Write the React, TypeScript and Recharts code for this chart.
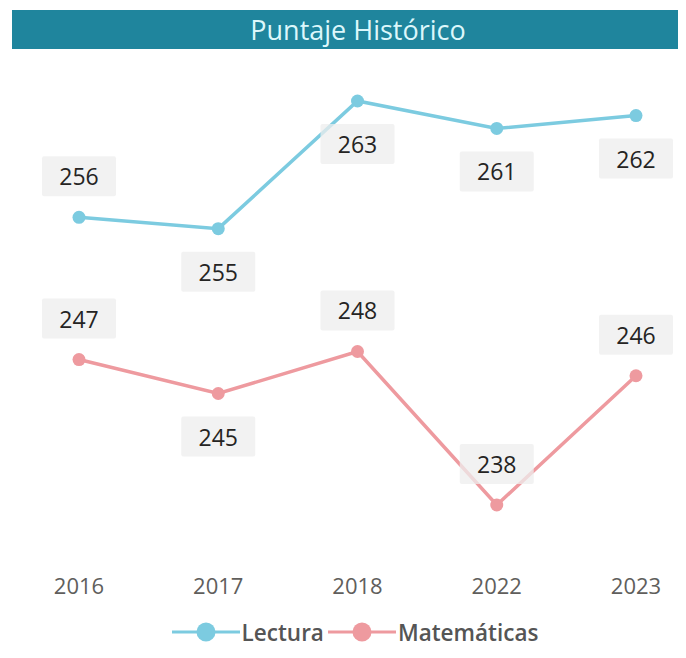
import React from "react";
import { LineChart, Line, XAxis, YAxis, LabelList, Legend } from "recharts";

const years = ["2016", "2017", "2018", "2022", "2023"];
const lectura = [255.8, 255.1, 263.0, 261.3, 262.1];
const matematicas = [247.0, 244.9, 247.5, 238.0, 246.0];
const seriesNames = ["Lectura", "Matemáticas"];
const seriesColors = ["#7ccbe0", "#ee9a9f"];
const lecturaLabelSide = ["above", "below", "below", "below", "below"];
const matematicasLabelSide = ["above", "below", "above", "above", "above"];

const data = years.map((y, i) => ({ year: y, lectura: lectura[i], matematicas: matematicas[i] }));

const FONT = "'Open Sans', 'Noto Sans', sans-serif";

const makeLabel = (sides: string[]) => (props: any) => {
  const { x, y, value, index } = props;
  const above = sides[index] === "above";
  const cy = above ? y - 41 : y + 43;
  const w = 74;
  const h = 40;
  return (
    <g>
      <rect x={x - w / 2} y={cy - h / 2} width={w} height={h} fill="#ededed" fillOpacity={0.75} rx={2} />
      <text x={x} y={cy} textAnchor="middle" dominantBaseline="central" fontSize={23} fill="#252423" fontFamily={FONT}>
        {Math.round(value)}
      </text>
    </g>
  );
};

const XTick = (props: any) => {
  const { x, y, payload } = props;
  return (
    <text x={x} y={y + 23.5} textAnchor="middle" dominantBaseline="central" fontSize={22} fill="#605e5c" fontFamily={FONT}>
      {payload.value}
    </text>
  );
};

const LegendContent = () => (
  <div style={{ display: "flex", justifyContent: "center", alignItems: "center", height: 30, paddingLeft: 16, fontFamily: FONT }}>
    {seriesNames.map((n, i) => (
      <div key={n} style={{ display: "flex", alignItems: "center", marginRight: i === 0 ? 4 : 0 }}>
        <svg width={68} height={24} style={{ display: "block" }}>
          <line x1={0} y1={12} x2={68} y2={12} stroke={seriesColors[i]} strokeWidth={3} />
          <circle cx={34} cy={12} r={9.5} fill={seriesColors[i]} />
        </svg>
        <span style={{ fontSize: 22.5, color: "#555555", fontWeight: 600, marginLeft: 2 }}>{n}</span>
      </div>
    ))}
  </div>
);

export default function App() {
  return (
    <div style={{ position: "relative", width: 678, height: 642 }}>
      <div
        style={{
          position: "absolute",
          left: 4,
          top: 2,
          width: 674,
          height: 39,
          paddingLeft: 18,
          boxSizing: "border-box",
          background: "#1f859d",
          color: "#dcf7fb",
          fontFamily: FONT,
          fontSize: 27,
          lineHeight: "39px",
          textAlign: "center",
        }}
      >
        Puntaje Histórico
      </div>
      <LineChart width={678} height={642} data={data} margin={{ top: 44.5, right: 0, left: 0, bottom: 26.5 }}>
        <XAxis
          dataKey="year"
          axisLine={false}
          tickLine={false}
          height={40}
          padding={{ left: 71, right: 50 }}
          tick={<XTick />}
          interval={0}
        />
        <YAxis hide domain={[235, 266]} />
        <Legend
          verticalAlign="bottom"
          content={<LegendContent />}
          wrapperStyle={{ top: 609, height: 30 }}
        />
        <Line
          type="linear"
          dataKey="lectura"
          name={seriesNames[0]}
          stroke={seriesColors[0]}
          strokeWidth={3.5}
          dot={{ r: 6.5, fill: seriesColors[0], stroke: seriesColors[0], strokeWidth: 0 }}
          activeDot={false}
          isAnimationActive={false}
        >
          <LabelList dataKey="lectura" content={makeLabel(lecturaLabelSide)} />
        </Line>
        <Line
          type="linear"
          dataKey="matematicas"
          name={seriesNames[1]}
          stroke={seriesColors[1]}
          strokeWidth={3.5}
          dot={{ r: 6.5, fill: seriesColors[1], stroke: seriesColors[1], strokeWidth: 0 }}
          activeDot={false}
          isAnimationActive={false}
        >
          <LabelList dataKey="matematicas" content={makeLabel(matematicasLabelSide)} />
        </Line>
      </LineChart>
    </div>
  );
}
